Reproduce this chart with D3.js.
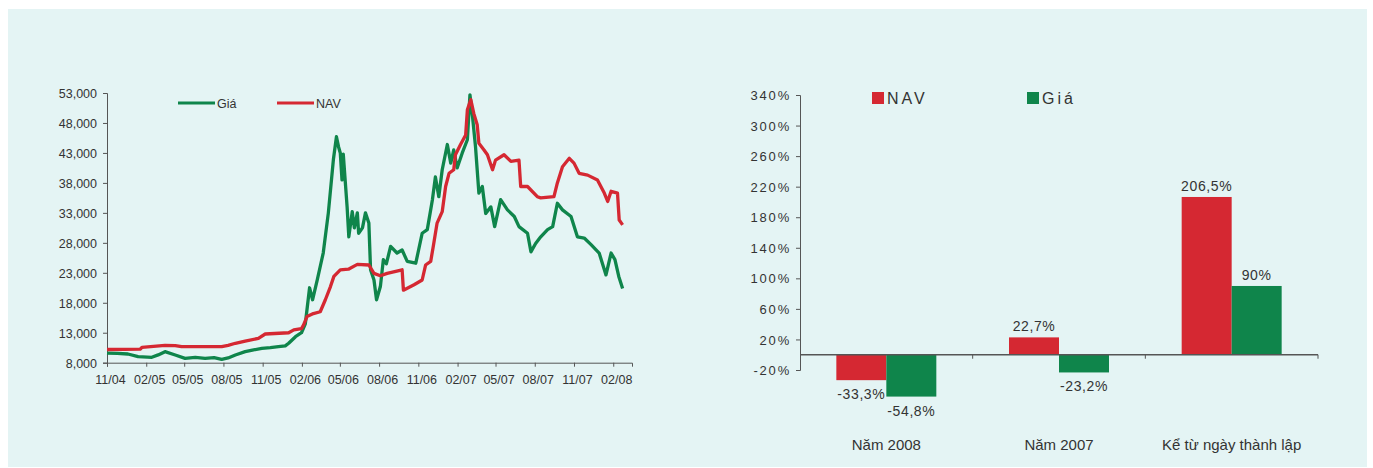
<!DOCTYPE html>
<html>
<head>
<meta charset="utf-8">
<script src="https://cdn.jsdelivr.net/npm/d3@7"></script>
<style>
  body { margin: 0; background: #fff; }
  svg text { font-family: "Liberation Sans", Arial, sans-serif; fill: #333; }
</style>
</head>
<body>
<svg id="chart" width="1373" height="468"></svg>
<script>
// left chart: weekly-ish readings of price (Giá) and NAV, VND
var giaSeries = [
  ["2004-11-01", 9600], ["2004-11-25", 9550], ["2004-12-20", 9450], ["2005-01-13", 9000],
  ["2005-02-14", 8900], ["2005-03-01", 9300], ["2005-03-17", 9840], ["2005-04-10", 9290],
  ["2005-05-03", 8730], ["2005-05-27", 8900], ["2005-06-19", 8730], ["2005-07-10", 8850],
  ["2005-07-28", 8560], ["2005-08-12", 8800], ["2005-08-29", 9290], ["2005-09-21", 9840],
  ["2005-10-08", 10100], ["2005-10-30", 10400], ["2005-11-19", 10500], ["2005-12-08", 10670],
  ["2005-12-24", 10800], ["2006-01-01", 11240], ["2006-01-17", 12340], ["2006-01-31", 13000],
  ["2006-02-09", 14500], ["2006-02-19", 20500], ["2006-02-26", 18500], ["2006-03-09", 21800],
  ["2006-03-23", 26300], ["2006-04-04", 33000], ["2006-04-16", 42000], ["2006-04-23", 45700],
  ["2006-04-28", 44000], ["2006-05-02", 43000], ["2006-05-06", 38500], ["2006-05-09", 42800],
  ["2006-05-18", 34000], ["2006-05-22", 29000], ["2006-05-30", 33200], ["2006-06-04", 30500],
  ["2006-06-11", 33000], ["2006-06-14", 29600], ["2006-06-23", 30500], ["2006-06-30", 33000],
  ["2006-07-08", 31300], ["2006-07-12", 23500], ["2006-07-20", 21800], ["2006-07-26", 18500],
  ["2006-08-04", 20700], ["2006-08-11", 25200], ["2006-08-18", 24500], ["2006-08-28", 27400],
  ["2006-09-12", 26300], ["2006-09-24", 26800], ["2006-10-06", 24900], ["2006-10-26", 24600],
  ["2006-11-10", 29600], ["2006-11-22", 30200], ["2006-12-04", 35200], ["2006-12-11", 39000],
  ["2006-12-19", 35700], ["2006-12-27", 40200], ["2007-01-08", 44400], ["2007-01-16", 41300],
  ["2007-01-23", 43500], ["2007-01-31", 40500], ["2007-02-12", 43000], ["2007-02-24", 45200],
  ["2007-03-02", 52700], ["2007-03-08", 49100], ["2007-03-15", 44100], ["2007-03-23", 36300],
  ["2007-03-31", 37400], ["2007-04-08", 32900], ["2007-04-20", 34000], ["2007-04-29", 30700],
  ["2007-05-13", 35200], ["2007-05-29", 33500], ["2007-06-14", 32400], ["2007-06-25", 30700],
  ["2007-07-15", 29600], ["2007-07-23", 26500], ["2007-08-03", 27900], ["2007-08-15", 29000],
  ["2007-08-31", 30200], ["2007-09-12", 30700], ["2007-09-23", 34600], ["2007-10-05", 33500],
  ["2007-10-25", 32400], ["2007-11-09", 29000], ["2007-11-25", 28800], ["2007-12-11", 27700],
  ["2007-12-30", 26300], ["2008-01-15", 22650], ["2008-01-27", 26300], ["2008-02-05", 25200],
  ["2008-02-14", 22400], ["2008-02-23", 20400]
];
var navSeries = [
  ["2004-11-01", 10200], ["2005-01-18", 10250], ["2005-01-22", 10570], ["2005-03-17", 10900],
  ["2005-04-10", 10850], ["2005-04-25", 10670], ["2005-07-28", 10670], ["2005-08-12", 10900],
  ["2005-08-29", 11240], ["2005-09-21", 11600], ["2005-10-22", 12070], ["2005-11-07", 12790],
  ["2006-01-01", 13000], ["2006-01-13", 13470], ["2006-01-31", 13700], ["2006-02-05", 14300],
  ["2006-02-13", 15700], ["2006-02-28", 16200], ["2006-03-16", 16500], ["2006-03-28", 18500],
  ["2006-04-09", 20700], ["2006-04-17", 22400], ["2006-05-02", 23500], ["2006-05-21", 23600],
  ["2006-06-11", 24400], ["2006-07-08", 24300], ["2006-07-20", 22900], ["2006-08-04", 22500],
  ["2006-08-20", 22900], ["2006-09-24", 23500], ["2006-09-27", 20100], ["2006-10-22", 21000],
  ["2006-11-10", 21800], ["2006-11-18", 24300], ["2006-11-30", 24900], ["2006-12-06", 27400],
  ["2006-12-15", 31300], ["2006-12-27", 33200], ["2007-01-04", 37400], ["2007-01-12", 39600],
  ["2007-01-23", 40200], ["2007-01-27", 42700], ["2007-02-08", 44400], ["2007-02-20", 46000],
  ["2007-02-24", 50200], ["2007-03-04", 51900], ["2007-03-11", 49600], ["2007-03-19", 47700],
  ["2007-03-23", 44600], ["2007-04-04", 43500], ["2007-04-12", 42700], ["2007-04-24", 40200],
  ["2007-05-01", 41800], ["2007-05-21", 42700], ["2007-06-06", 41600], ["2007-06-25", 41800],
  ["2007-06-29", 37400], ["2007-07-15", 37400], ["2007-08-07", 35700], ["2007-08-15", 35500],
  ["2007-09-15", 35700], ["2007-09-23", 38000], ["2007-10-05", 40700], ["2007-10-21", 42100],
  ["2007-11-01", 41300], ["2007-11-13", 39600], ["2007-12-03", 39300], ["2007-12-26", 38500],
  ["2008-01-11", 36300], ["2008-01-19", 34900], ["2008-01-27", 36600], ["2008-02-11", 36300],
  ["2008-02-15", 31800], ["2008-02-23", 31000]
];
var lineYTicks = [8000, 13000, 18000, 23000, 28000, 33000, 38000, 43000, 48000, 53000];
var lineXTickLabels = ["11/04", "02/05", "05/05", "08/05", "11/05", "02/06", "05/06",
                       "08/06", "11/06", "02/07", "05/07", "08/07", "11/07", "02/08"];

// right chart: returns, %
var categories = ["Năm 2008", "Năm 2007", "Kể từ ngày thành lập"];
var navReturns = [-33.3, 22.7, 206.5];
var giaReturns = [-54.8, -23.2, 90];
var barYTicks = [-20, 20, 60, 100, 140, 180, 220, 260, 300, 340];

var RED = "#d52832";
var GREEN = "#0f854b";
var AXIS = "#555";

var svg = d3.select("#chart");
svg.append("rect").attr("x", 8).attr("y", 9).attr("width", 1359).attr("height", 458)
   .attr("fill", "#e4f4f4");

// ---------- line chart ----------
var parseDate = d3.timeParse("%Y-%m-%d");
var parseTick = d3.timeParse("%m/%y");
var x = d3.scaleTime()
          .domain([parseDate("2004-11-01"), parseDate("2008-03-16")])
          .range([107, 632]);
var y = d3.scaleLinear().domain([8000, 53000]).range([362.7, 93]);

var left = svg.append("g");
var yAx = left.append("g").attr("transform", "translate(107,0)")
    .call(d3.axisLeft(y).tickValues(lineYTicks).tickSize(4).tickPadding(6)
          .tickFormat(d3.format(",")));
var xAx = left.append("g").attr("transform", "translate(0,362.7)")
    .call(d3.axisBottom(x).tickValues(lineXTickLabels.map(parseTick)).tickSize(4).tickPadding(8)
          .tickFormat(d3.timeFormat("%m/%y")));
[yAx, xAx].forEach(function (g) {
    g.select(".domain").attr("stroke", AXIS);
    g.selectAll(".tick line").attr("stroke", AXIS);
    g.selectAll("text").attr("font-size", "12.5px").attr("fill", "#333")
     .attr("font-family", "Liberation Sans, Arial, sans-serif");
});
xAx.selectAll("text").attr("dx", 3);
yAx.selectAll("text").attr("dy", "0.35em");

var line = d3.line()
             .x(function (d) { return x(parseDate(d[0])); })
             .y(function (d) { return y(d[1]); });
left.append("path").datum(giaSeries).attr("d", line)
    .attr("fill", "none").attr("stroke", GREEN).attr("stroke-width", 3.3).attr("stroke-linejoin", "round");
left.append("path").datum(navSeries).attr("d", line)
    .attr("fill", "none").attr("stroke", RED).attr("stroke-width", 3.3).attr("stroke-linejoin", "round");

// legend
var lineLegend = [{name: "Giá", color: GREEN, x: 178}, {name: "NAV", color: RED, x: 277}];
lineLegend.forEach(function (l) {
    left.append("line").attr("x1", l.x).attr("x2", l.x + 37).attr("y1", 103).attr("y2", 103)
        .attr("stroke", l.color).attr("stroke-width", 3);
    left.append("text").attr("x", l.x + 39).attr("y", 107.5).attr("font-size", "12.5px").text(l.name);
});

// ---------- bar chart ----------
var x0 = d3.scaleBand().domain(categories).range([800, 1318]);
var x1 = d3.scaleBand().domain(["NAV", "Giá"]).range([0, x0.bandwidth()]).paddingOuter(0.727);
var yb = d3.scaleLinear().domain([-20, 340]).range([370, 95]);

var right = svg.append("g");
var ybAx = right.append("g").attr("transform", "translate(800,0)")
    .call(d3.axisLeft(yb).tickValues(barYTicks).tickSize(4).tickPadding(5)
          .tickFormat(function (d) { return d + "%"; }));
ybAx.select(".domain").attr("stroke", AXIS);
ybAx.selectAll(".tick line").attr("stroke", AXIS);
ybAx.selectAll("text").attr("font-size", "13px").attr("fill", "#333").attr("letter-spacing", "1.8px")
    .attr("font-family", "Liberation Sans, Arial, sans-serif").attr("dy", "0.35em");

var barSeries = [{name: "NAV", values: navReturns, color: RED},
                 {name: "Giá", values: giaReturns, color: GREEN}];
var fmtPct = function (v) { return String(v).replace(".", ",") + "%"; };

barSeries.forEach(function (s) {
    var g = right.append("g");
    g.selectAll("rect").data(s.values).join("rect")
     .attr("x", function (d, i) { return x0(categories[i]) + x1(s.name); })
     .attr("width", x1.bandwidth())
     .attr("y", function (d) { return d >= 0 ? yb(d) : yb(0); })
     .attr("height", function (d) { return Math.abs(yb(d) - yb(0)); })
     .attr("fill", s.color);
    g.selectAll("text").data(s.values).join("text")
     .attr("x", function (d, i) { return x0(categories[i]) + x1(s.name) + x1.bandwidth() / 2; })
     .attr("y", function (d) { return d >= 0 ? yb(d) - 6 : yb(d) + 19; })
     .attr("text-anchor", "middle").attr("font-size", "14px").attr("letter-spacing", "0.6px")
     .text(fmtPct);
});

// zero line with category ticks
right.append("line").attr("x1", 800).attr("x2", 1318).attr("y1", yb(0)).attr("y2", yb(0))
     .attr("stroke", AXIS).attr("stroke-width", 1.5);
categories.forEach(function (c) {
    var xe = x0(c) + x0.bandwidth();
    right.append("line").attr("x1", xe).attr("x2", xe).attr("y1", yb(0)).attr("y2", yb(0) + 4)
         .attr("stroke", AXIS);
    right.append("text").attr("x", x0(c) + x0.bandwidth() / 2).attr("y", 450)
         .attr("text-anchor", "middle").attr("font-size", "15px").text(c);
});

// legend
var barLegend = [{name: "NAV", color: RED, x: 872}, {name: "Giá", color: GREEN, x: 1027}];
barLegend.forEach(function (l) {
    right.append("rect").attr("x", l.x).attr("y", 92).attr("width", 12).attr("height", 12)
         .attr("fill", l.color);
    right.append("text").attr("x", l.x + 15).attr("y", 104).attr("font-size", "16px")
         .attr("letter-spacing", "3px").text(l.name);
});
</script>
</body>
</html>
